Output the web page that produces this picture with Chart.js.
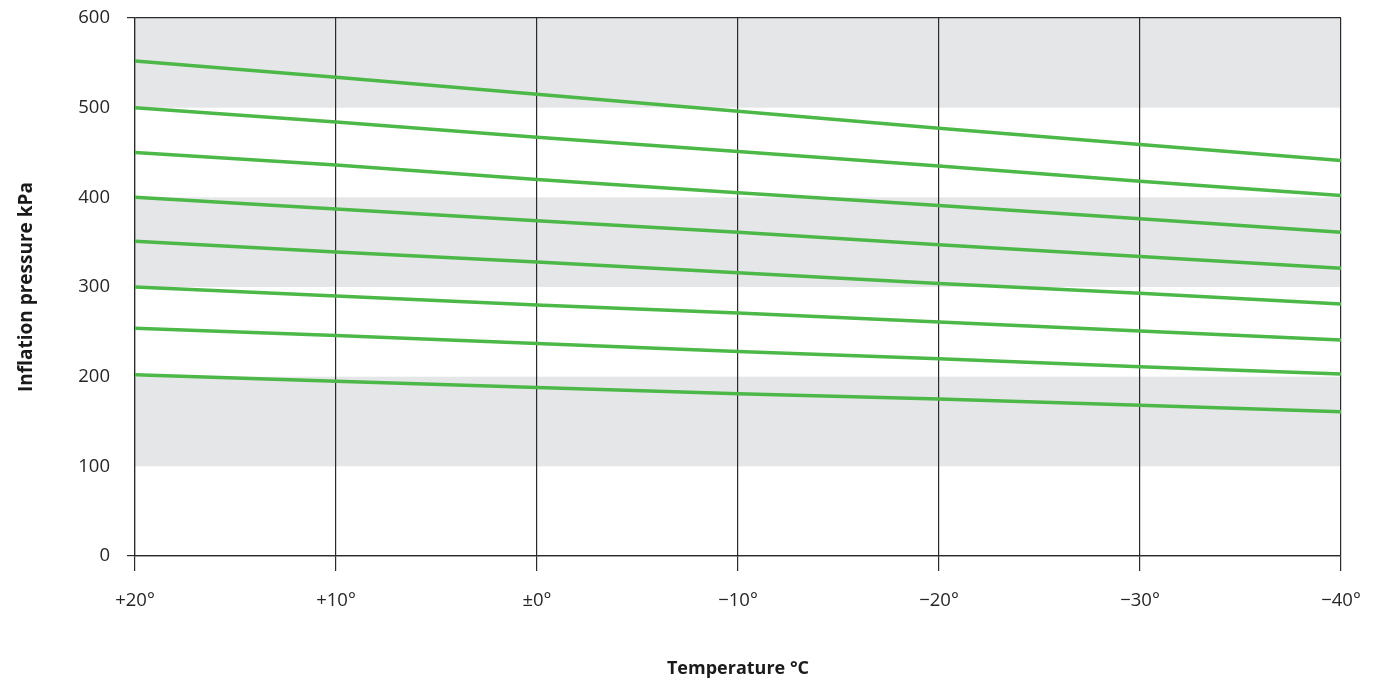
<!DOCTYPE html>
<html>
<head>
<meta charset="utf-8">
<script src="https://cdn.jsdelivr.net/npm/chart.js@4/dist/chart.umd.min.js"></script>
<style>
  html, body { margin: 0; padding: 0; background: #ffffff; }
  #wrap { width: 1377px; height: 680px; position: relative; }
</style>
</head>
<body>
<div id="wrap"><canvas id="c" width="1377" height="680"></canvas></div>
<script>
// Categories (temperature, °C)
const temperatures = ['+20°', '+10°', '±0°', '−10°', '−20°', '−30°', '−40°'];

// Inflation pressure curves (kPa), one per starting pressure at +20 °C
const line552 = [552, 534, 515, 496, 477, 459, 441];
const line500 = [500, 484, 467, 451, 435, 418, 402];
const line450 = [450, 436, 420, 405, 391, 376, 361];
const line400 = [400, 387, 374, 361, 347, 334, 321];
const line350 = [351, 339, 328, 316, 304, 293, 281];
const line300 = [300, 290, 280, 271, 261, 251, 241];
const line254 = [254, 246, 237, 228, 220, 211, 203];
const line200 = [202, 195, 188, 181, 175, 168, 161];

// Y-axis ticks and shaded bands (kPa)
const yTicks = [0, 100, 200, 300, 400, 500, 600];
const shadedBands = [[100, 200], [300, 400], [500, 600]];

const series = [line552, line500, line450, line400, line350, line300, line254, line200];

const GREEN = '#4cb848';
const DARK = '#2a2a2a';
const FONT = "'Open Sans', 'DejaVu Sans', sans-serif";

const bandPlugin = {
  id: 'bands',
  beforeDraw(chart) {
    const { ctx, chartArea, scales } = chart;
    const y = scales.y;
    ctx.save();
    ctx.fillStyle = '#e5e6e8';
    shadedBands.forEach(([lo, hi]) => {
      const yTop = y.getPixelForValue(hi);
      const yBot = y.getPixelForValue(lo);
      ctx.fillRect(chartArea.left, yTop, chartArea.right - chartArea.left, yBot - yTop);
    });
    ctx.restore();
  }
};

new Chart(document.getElementById('c'), {
  type: 'line',
  data: {
    labels: temperatures,
    datasets: series.map((d, i) => ({
      label: 'p' + i,
      data: d,
      borderColor: GREEN,
      backgroundColor: GREEN,
      borderWidth: 3.5,
      pointRadius: 0,
      tension: 0,
      fill: false
    }))
  },
  options: {
    responsive: false,
    animation: false,
    devicePixelRatio: 1,
    layout: { padding: { top: 18, right: 36, bottom: 0, left: 0 } },
    plugins: {
      legend: { display: false },
      tooltip: { enabled: false }
    },
    scales: {
      x: {
        type: 'category',
        offset: false,
        grid: {
          display: true,
          color: DARK,
          lineWidth: 1.2,
          tickLength: 15,
          drawOnChartArea: true,
          drawTicks: true
        },
        border: { display: true, color: DARK, width: 1.2 },
        ticks: {
          color: '#262626',
          font: { family: FONT, size: 18.5 },
          padding: 19,
          maxRotation: 0,
          autoSkip: false
        },
        title: {
          display: true,
          text: 'Temperature °C',
          color: '#1a1a1a',
          font: { family: FONT, size: 18, weight: 'bold' },
          padding: { top: 0, bottom: 0 }
        },
        afterFit(scale) { scale.height = 124; scale.paddingLeft = 0; scale.paddingRight = 0; }
      },
      y: {
        type: 'linear',
        min: 0,
        max: 600,
        afterBuildTicks(scale) { scale.ticks = yTicks.map(v => ({ value: v })); },
        grid: {
          color: (c) => (c.tick && (c.tick.value === 0 || c.tick.value === 600)) ? DARK : 'rgba(0,0,0,0)',
          lineWidth: 1.2,
          tickLength: 8,
          drawTicks: true
        },
        border: { display: true, color: DARK, width: 1.2 },
        ticks: {
          color: '#262626',
          font: { family: FONT, size: 18.5 },
          padding: 17
        },
        title: {
          display: true,
          text: 'Inflation pressure kPa',
          color: '#1a1a1a',
          font: { family: FONT, size: 19, weight: 'bold' },
          padding: { top: 15, bottom: 0 }
        },
        afterFit(scale) { scale.width = 135; scale.paddingTop = 0; scale.paddingBottom = 0; }
      }
    }
  },
  plugins: [bandPlugin]
});
</script>
</body>
</html>
